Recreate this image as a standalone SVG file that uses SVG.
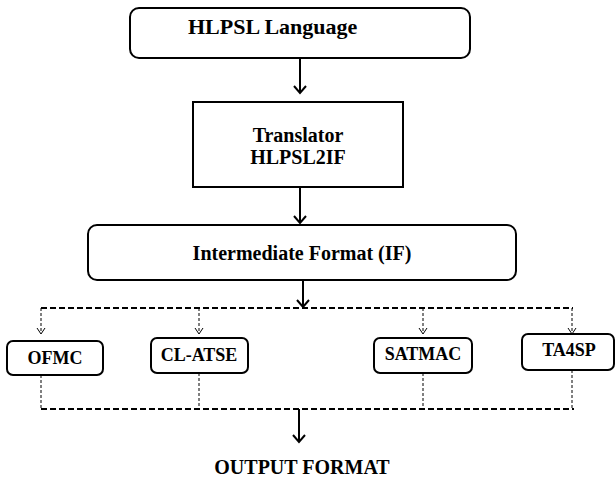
<svg xmlns="http://www.w3.org/2000/svg" width="616" height="480" viewBox="0 0 616 480">
<defs>
<style>
.box{fill:#fff;stroke:#000;stroke-width:2}
.t{font-family:"Liberation Serif","Times New Roman",serif;font-weight:bold;fill:#000}
.main{stroke:#000;stroke-width:2;fill:none}
.bus{stroke:#000;stroke-width:2;fill:none;stroke-dasharray:6,3}
.drop{stroke:#000;stroke-width:1;fill:none;stroke-dasharray:3,2}
</style>
<marker id="ah" viewBox="0 0 10 10" refX="5" refY="9" markerWidth="10" markerHeight="10" markerUnits="userSpaceOnUse" orient="auto-start-reverse">
<path d="M0,2 L5,9 L10,2" fill="none" stroke="#000" stroke-width="2"/>
</marker>
</defs>
<rect width="616" height="480" fill="#fff"/>
<g id="connectors">
<line class="main" x1="300" y1="58" x2="300" y2="92"/>
<path class="main" d="M294,86 L300,93 L306,86"/>
<line class="main" x1="300" y1="187" x2="300" y2="223"/>
<path class="main" d="M294,216 L300,223 L306,216"/>
<line class="main" x1="303" y1="280" x2="303" y2="307"/>
<path class="main" d="M297,300 L303,307 L309,300"/>
<line class="bus" x1="41" y1="308" x2="573" y2="308"/>
<line class="drop" x1="41" y1="308" x2="41" y2="333"/>
<path d="M37,328 L41,334 L45,328" fill="none" stroke="#000" stroke-width="1"/>
<line class="drop" x1="199" y1="308" x2="199" y2="333"/>
<path d="M195,328 L199,334 L203,328" fill="none" stroke="#000" stroke-width="1"/>
<line class="drop" x1="423" y1="308" x2="423" y2="333"/>
<path d="M419,328 L423,334 L427,328" fill="none" stroke="#000" stroke-width="1"/>
<line class="drop" x1="572" y1="308" x2="572" y2="333"/>
<path d="M568,328 L572,334 L576,328" fill="none" stroke="#000" stroke-width="1"/>
<line class="drop" x1="41" y1="375" x2="41" y2="409"/>
<line class="drop" x1="199" y1="373" x2="199" y2="409"/>
<line class="drop" x1="423" y1="373" x2="423" y2="409"/>
<line class="drop" x1="572" y1="370" x2="572" y2="409"/>
<line class="bus" x1="41" y1="409" x2="574" y2="409"/>
<line class="main" x1="299" y1="409" x2="299" y2="442"/>
<path class="main" d="M293,435 L299,442 L305,435"/>
</g>
<g id="hlpsl">
<rect class="box" x="130" y="8" width="340" height="50" rx="9"/>
<text class="t" x="188" y="34" font-size="22">HLPSL Language</text>
</g>
<g id="translator">
<rect class="box" x="193" y="102" width="210" height="85"/>
<text class="t" x="298" y="142" font-size="20" text-anchor="middle">Translator</text>
<text class="t" x="298" y="164" font-size="20" text-anchor="middle">HLPSL2IF</text>
</g>
<g id="if">
<rect class="box" x="88" y="225" width="428" height="55" rx="9"/>
<text class="t" x="302" y="260" font-size="20" text-anchor="middle">Intermediate Format (IF)</text>
</g>
<g id="ofmc">
<rect class="box" x="7" y="341" width="96" height="34" rx="6"/>
<text class="t" x="55" y="364" font-size="18" text-anchor="middle">OFMC</text>
</g>
<g id="clatse">
<rect class="box" x="151" y="338" width="97" height="35" rx="6"/>
<text class="t" x="199" y="361" font-size="18" text-anchor="middle">CL-ATSE</text>
</g>
<g id="satmac">
<rect class="box" x="374" y="338" width="98" height="35" rx="6"/>
<text class="t" x="423" y="360" font-size="18" text-anchor="middle">SATMAC</text>
</g>
<g id="ta4sp">
<rect class="box" x="522" y="334" width="92" height="36" rx="6"/>
<text class="t" x="569" y="356" font-size="18" text-anchor="middle">TA4SP</text>
</g>
<g id="output">
<text class="t" x="302" y="474" font-size="20" text-anchor="middle">OUTPUT FORMAT</text>
</g>
</svg>
